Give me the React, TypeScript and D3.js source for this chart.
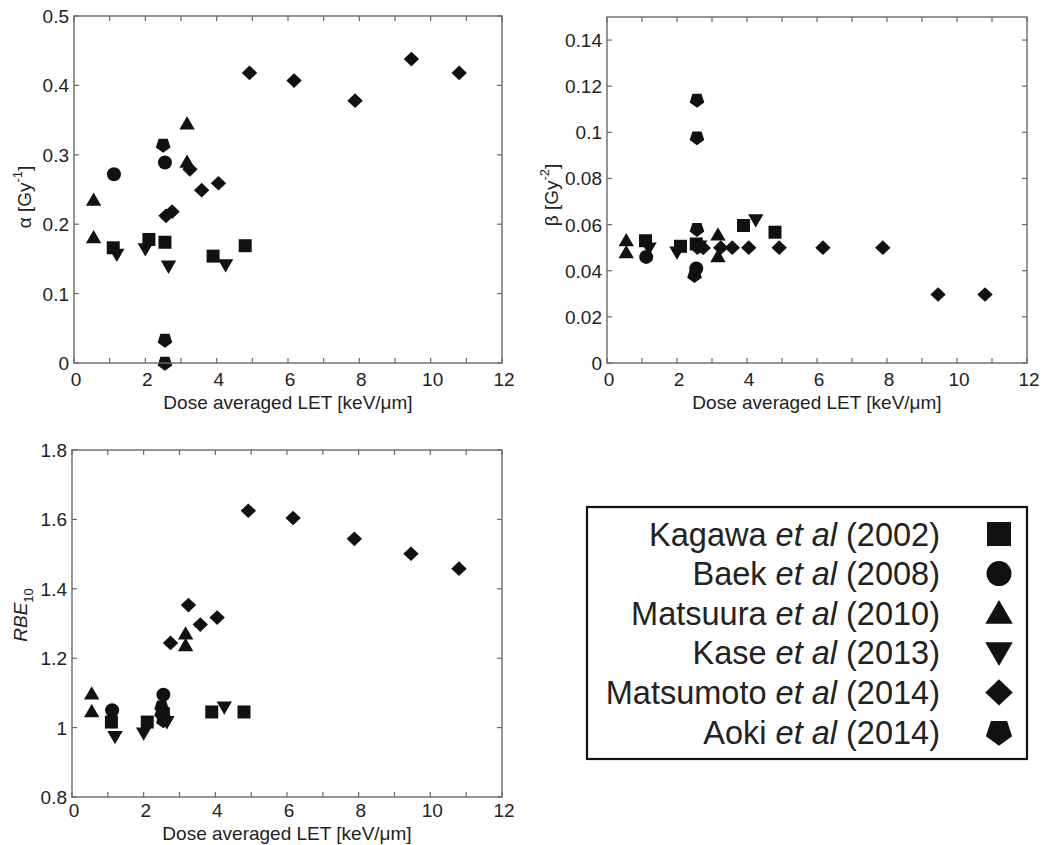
import React from 'react';
import * as d3 from 'd3';

// ---------- data ----------
const xTicks = [0, 1, 2, 3, 4, 5, 6, 7, 8, 9, 10, 11, 12];
const alphaTicks = [0, 0.1, 0.2, 0.3, 0.4, 0.5];
const betaTicks = [0, 0.02, 0.04, 0.06, 0.08, 0.1, 0.12, 0.14];
const rbeTicks = [0.8, 1, 1.2, 1.4, 1.6, 1.8];

const seriesNames = ['Kagawa', 'Baek', 'Matsuura', 'Kase', 'Matsumoto', 'Aoki'];
const seriesYears = ['2002', '2008', '2010', '2013', '2014', '2014'];
const seriesShapes = ['square', 'circle', 'triUp', 'triDown', 'diamond', 'pentagon'];

const kagawaLET = [1.1, 2.1, 2.55, 3.9, 4.8];
const kagawaAlpha = [0.166, 0.178, 0.174, 0.154, 0.169];
const kagawaBeta = [0.053, 0.0506, 0.0516, 0.0596, 0.0567];
const kagawaRBE = [1.016, 1.016, 1.04, 1.045, 1.045];

const baekLET = [1.12, 2.55];
const baekAlpha = [0.272, 0.289];
const baekBeta = [0.046, 0.041];
const baekRBE = [1.05, 1.095];

const matsuuraLET = [0.55, 0.55, 3.17, 3.17];
const matsuuraAlpha = [0.235, 0.181, 0.345, 0.29];
const matsuuraBeta = [0.0532, 0.048, 0.0557, 0.0463];
const matsuuraRBE = [1.098, 1.047, 1.271, 1.2375];

const kaseLET = [1.2, 2.0, 2.65, 4.25];
const kaseAlpha = [0.156, 0.164, 0.139, 0.141];
const kaseBeta = [0.0497, 0.0479, 0.0505, 0.0619];
const kaseRBE = [0.973, 0.983, 1.016, 1.058];

const matsumotoLET = [2.58, 2.75, 3.25, 3.58, 4.05, 4.92, 6.17, 7.88, 9.46, 10.8];
const matsumotoAlpha = [0.212, 0.218, 0.279, 0.249, 0.259, 0.418, 0.407, 0.378, 0.438, 0.418];
const matsumotoBeta = [0.05, 0.0499, 0.05, 0.05, 0.05, 0.05, 0.05, 0.05, 0.0297, 0.0297];
const matsumotoRBE = [1.03, 1.244, 1.353, 1.297, 1.317, 1.625, 1.604, 1.544, 1.501, 1.458];

const aokiAlphaLET = [2.5, 2.55, 2.55];
const aokiAlpha = [0.314, 0.033, 0.0];
const aokiBetaLET = [2.57, 2.57, 2.57, 2.5];
const aokiBeta = [0.114, 0.0977, 0.058, 0.038];
const aokiRBELET = [2.5, 2.5, 2.55];
const aokiRBE = [1.06, 1.04, 1.02];

const zip = (xs: number[], ys: number[]) => xs.map((x, i) => [x, ys[i]] as [number, number]);

const alphaSeries = [
  zip(kagawaLET, kagawaAlpha),
  zip(baekLET, baekAlpha),
  zip(matsuuraLET, matsuuraAlpha),
  zip(kaseLET, kaseAlpha),
  zip(matsumotoLET, matsumotoAlpha),
  zip(aokiAlphaLET, aokiAlpha),
];
const betaSeries = [
  zip(kagawaLET, kagawaBeta),
  zip(baekLET, baekBeta),
  zip(matsuuraLET, matsuuraBeta),
  zip(kaseLET, kaseBeta),
  zip(matsumotoLET, matsumotoBeta),
  zip(aokiBetaLET, aokiBeta),
];
const rbeSeries = [
  zip(kagawaLET, kagawaRBE),
  zip(baekLET, baekRBE),
  zip(matsuuraLET, matsuuraRBE),
  zip(kaseLET, kaseRBE),
  zip(matsumotoLET, matsumotoRBE),
  zip(aokiRBELET, aokiRBE),
];

// ---------- shapes ----------
function shapePath(type: string, s: number): string {
  switch (type) {
    case 'square':
      return `M${-s},${-s}H${s}V${s}H${-s}Z`;
    case 'circle':
      return `M${s},0A${s},${s} 0 1,1 ${-s},0A${s},${s} 0 1,1 ${s},0Z`;
    case 'triUp':
      return `M0,${-s * 1.05}L${s * 1.1},${s * 0.85}L${-s * 1.1},${s * 0.85}Z`;
    case 'triDown':
      return `M0,${s * 1.05}L${s * 1.1},${-s * 0.85}L${-s * 1.1},${-s * 0.85}Z`;
    case 'diamond':
      return `M0,${-s * 1.05}L${s * 1.1},0L0,${s * 1.05}L${-s * 1.1},0Z`;
    case 'pentagon': {
      const pts = d3.range(5).map((i) => {
        const a = Math.PI / 2 + (i * 2 * Math.PI) / 5;
        return [Math.cos(a) * s * 1.1, Math.sin(a) * s * 1.1];
      });
      return 'M' + pts.map((p) => p.join(',')).join('L') + 'Z';
    }
  }
  return '';
}

const FONT = "'Liberation Sans', Arial, sans-serif";
const AXIS_COLOR = '#6a6a6a';
const TEXT_COLOR = '#222';
const MARK_COLOR = '#111';

type PanelProps = {
  left: number; right: number; top: number; bottom: number;
  yDomain: [number, number]; yTicks: number[];
  series: [number, number][][];
  yLabel: React.ReactNode; yLabelX: number; yLabelY: number;
  tickY: number; titleY: number;
};

function Panel(p: PanelProps) {
  const x = d3.scaleLinear().domain([0, 12]).range([p.left, p.right]);
  const y = d3.scaleLinear().domain(p.yDomain).range([p.bottom, p.top]);
  const tl = 5;
  const fmt = (v: number) => String(+v.toFixed(3));
  return (
    <g>
      {p.series.map((pts, si) =>
        pts.map((pt, i) => (
          <path
            key={`${si}-${i}`}
            d={shapePath(seriesShapes[si], si === 0 ? 6.5 : 7)}
            transform={`translate(${x(pt[0])},${y(pt[1])})`}
            fill={MARK_COLOR}
          />
        ))
      )}
      <rect x={p.left} y={p.top} width={p.right - p.left} height={p.bottom - p.top}
        fill="none" stroke={AXIS_COLOR} strokeWidth={1.4} />
      {xTicks.map((t) => (
        <g key={'xt' + t}>
          <line x1={x(t)} x2={x(t)} y1={p.bottom} y2={p.bottom - tl} stroke={AXIS_COLOR} strokeWidth={1.2} />
          <line x1={x(t)} x2={x(t)} y1={p.top} y2={p.top + tl} stroke={AXIS_COLOR} strokeWidth={1.2} />
          {t % 2 === 0 && (
            <text x={x(t) + 2} y={p.tickY} textAnchor="middle" fontSize={19}
              fontFamily={FONT} fill={TEXT_COLOR}>{t}</text>
          )}
        </g>
      ))}
      {p.yTicks.map((t) => (
        <g key={'yt' + t}>
          <line x1={p.left} x2={p.left + tl} y1={y(t)} y2={y(t)} stroke={AXIS_COLOR} strokeWidth={1.2} />
          <line x1={p.right} x2={p.right - tl} y1={y(t)} y2={y(t)} stroke={AXIS_COLOR} strokeWidth={1.2} />
          <text x={p.left - 5} y={y(t) + 7} textAnchor="end" fontSize={19}
            fontFamily={FONT} fill={TEXT_COLOR}>{fmt(t)}</text>
        </g>
      ))}
      <text x={(p.left + p.right) / 2} y={p.titleY} textAnchor="middle" fontSize={19}
        fontFamily={FONT} fill={TEXT_COLOR}>Dose averaged LET [keV/μm]</text>
      <text transform={`translate(${p.yLabelX},${p.yLabelY}) rotate(-90)`} textAnchor="middle"
        fontSize={19} fontFamily={FONT} fill={TEXT_COLOR} dominantBaseline="middle">
        {p.yLabel}
      </text>
    </g>
  );
}

function Legend() {
  const left = 587, right = 1027, top = 507, bottom = 759;
  const rowY = d3.scaleLinear().domain([0, 5]).range([534, 732]);
  return (
    <g>
      <rect x={left} y={top} width={right - left} height={bottom - top} fill="#fff"
        stroke="#111" strokeWidth={2.2} />
      {seriesNames.map((n, i) => (
        <g key={n}>
          <text x={940} y={rowY(i) + 11.5} textAnchor="end" fontSize={32.5} fontFamily={FONT} fill={TEXT_COLOR}>
            {n + ' '}
            <tspan fontStyle="italic">et al</tspan>
            {' (' + seriesYears[i] + ')'}
          </text>
          <path d={shapePath(seriesShapes[i], i === 0 ? 12 : 12.5)}
            transform={`translate(999,${rowY(i)})`} fill={MARK_COLOR} />
        </g>
      ))}
    </g>
  );
}

export default function App() {
  return (
    <svg width={1043} height={845} style={{ position: 'absolute', left: 0, top: 0, background: '#fff' }}>
      <rect x={0} y={0} width={1043} height={845} fill="#fff" />
      <Panel left={74} right={502} top={16} bottom={363} yDomain={[0, 0.5]} yTicks={alphaTicks}
        series={alphaSeries} tickY={386} titleY={409} yLabelX={26} yLabelY={197}
        yLabel={<>α [Gy<tspan baselineShift="super" fontSize={13}>-1</tspan>]</>} />
      <Panel left={607} right={1027} top={17} bottom={363} yDomain={[0, 0.15]} yTicks={betaTicks}
        series={betaSeries} tickY={386} titleY={409} yLabelX={553} yLabelY={195}
        yLabel={<>β [Gy<tspan baselineShift="super" fontSize={13}>-2</tspan>]</>} />
      <Panel left={72} right={502} top={450} bottom={797} yDomain={[0.8, 1.8]} yTicks={rbeTicks}
        series={rbeSeries} tickY={817} titleY={840} yLabelX={22} yLabelY={615}
        yLabel={<><tspan fontStyle="italic">RBE</tspan><tspan baselineShift="sub" fontSize={13}>10</tspan></>} />
      <Legend />
    </svg>
  );
}
